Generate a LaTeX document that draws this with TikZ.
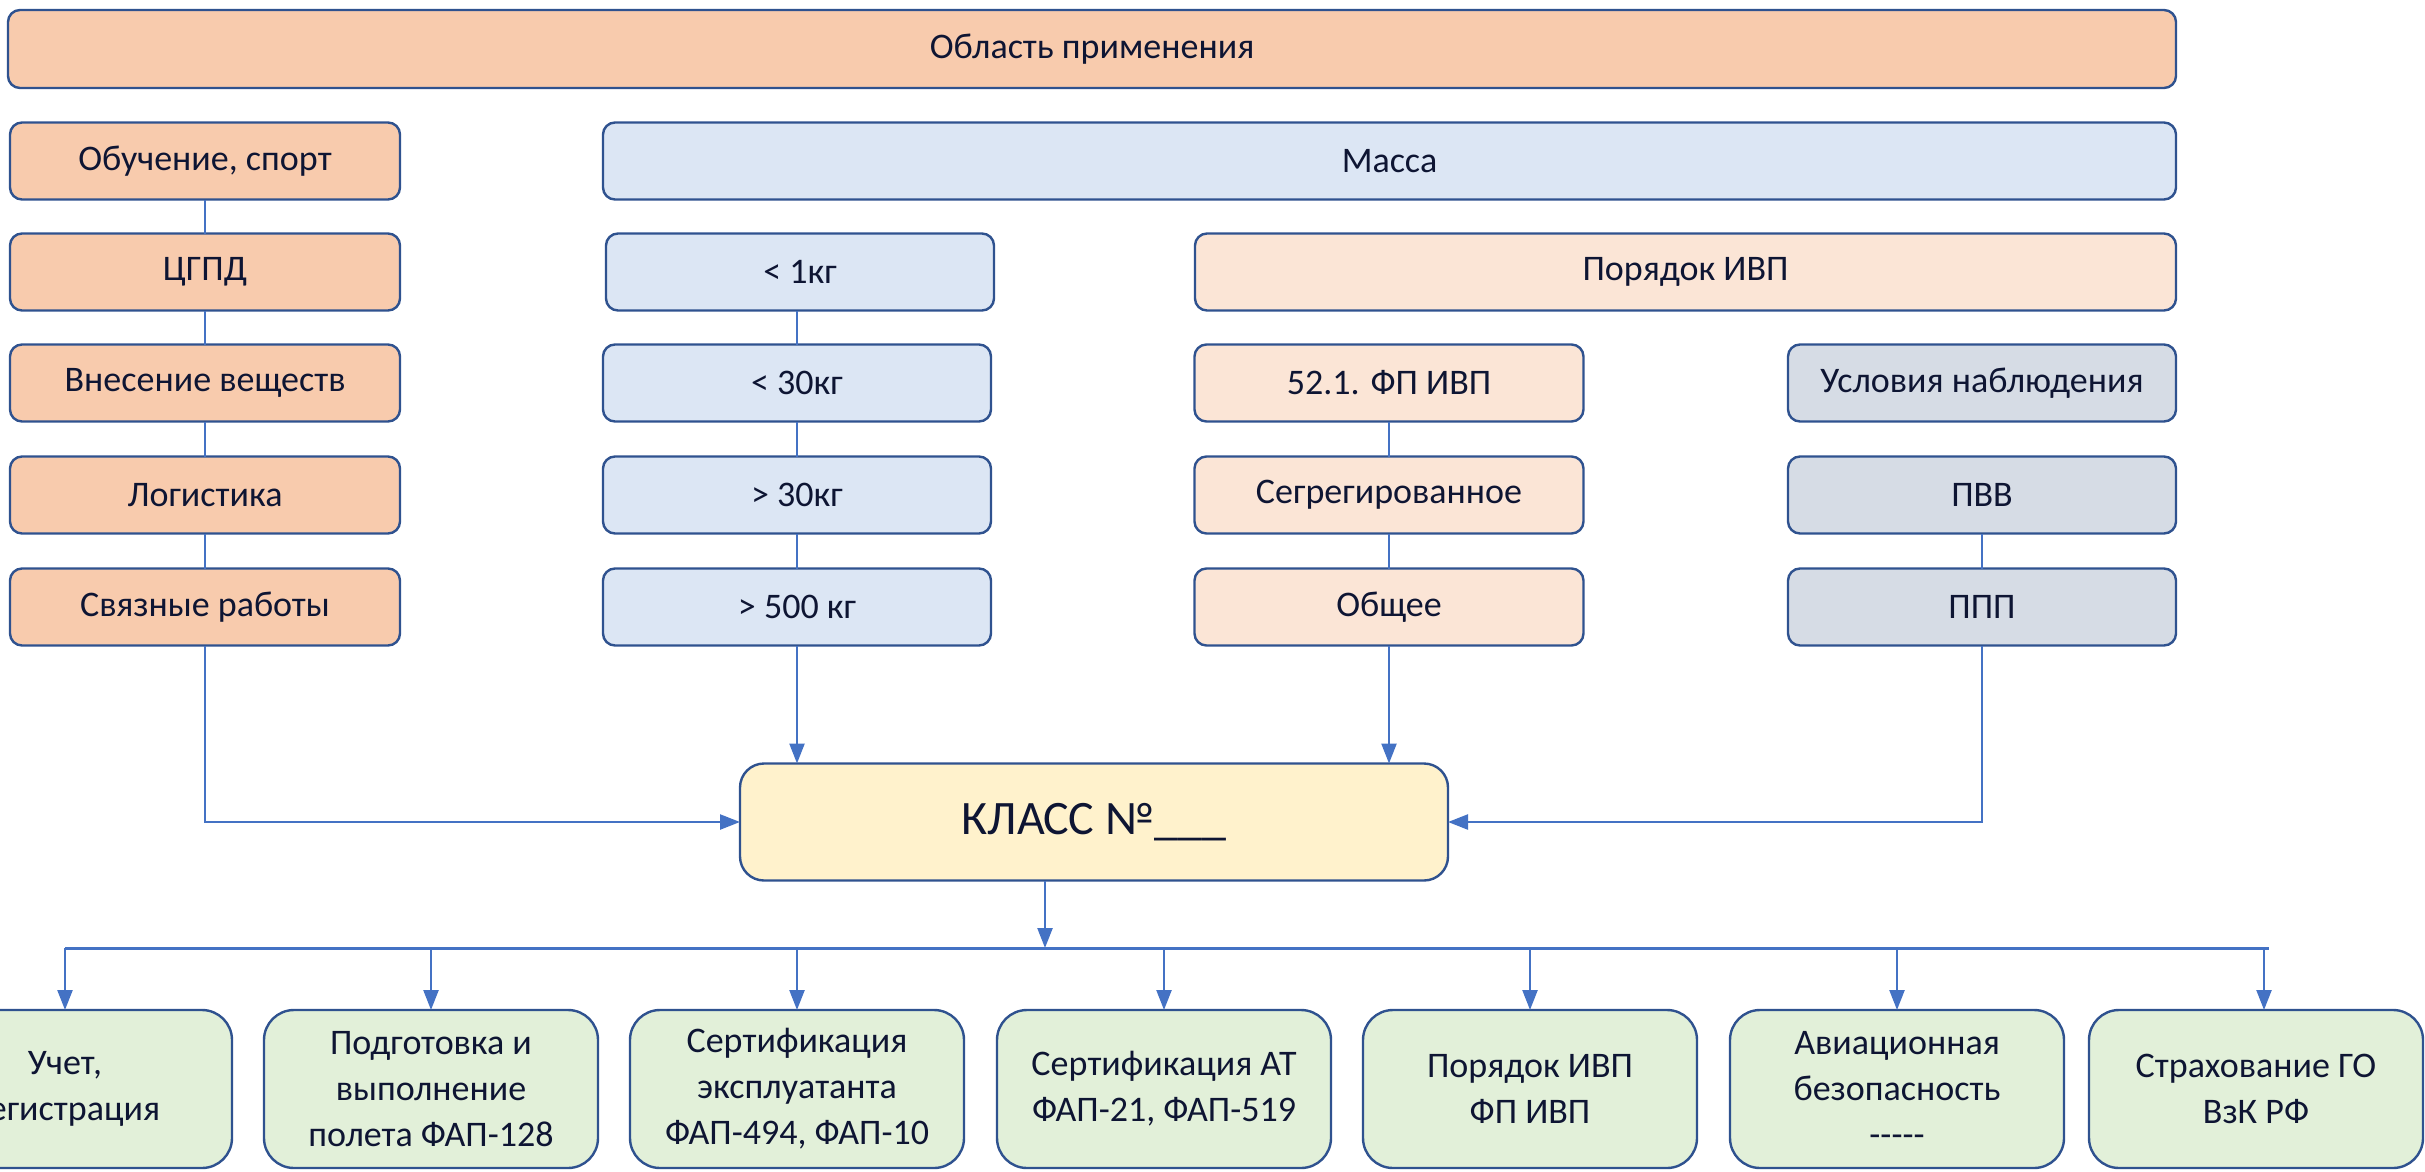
\documentclass[tikz,border=0pt]{standalone}
\usepackage{fontspec}
\setmainfont{Carlito}
\usetikzlibrary{arrows.meta}
\definecolor{bord}{HTML}{2F528F}
\definecolor{conn}{HTML}{4472C4}
\definecolor{txt}{HTML}{0E1533}
\definecolor{orng}{HTML}{F8CBAD}
\definecolor{lorng}{HTML}{FBE5D6}
\definecolor{lblue}{HTML}{DCE6F4}
\definecolor{gblue}{HTML}{D6DCE5}
\definecolor{klass}{HTML}{FFF2CC}
\definecolor{grn}{HTML}{E2F0D9}
\begin{document}
\begin{tikzpicture}[x=1pt,y=-1pt,
  box/.style={draw=bord, line width=2.4pt, rounded corners=12pt, inner sep=0pt, outer sep=0pt,
    minimum height=77pt, text=txt, font=\fontsize{36}{46}\selectfont, align=center},
  cola/.style={box, fill=orng, minimum width=390pt},
  colb/.style={box, fill=lblue, minimum width=388pt},
  colc/.style={box, fill=lorng, minimum width=389pt},
  cold/.style={box, fill=gblue, minimum width=388pt},
  botbox/.style={box, fill=grn, minimum width=334pt, minimum height=158pt, rounded corners=30pt},
  link/.style={draw=conn, line width=1.6pt},
  arr/.style={draw=conn, line width=2.4pt, -{Triangle[length=20pt,width=15pt]}},
  bus/.style={draw=conn, line width=3pt}]
\useasboundingbox (0,0) rectangle (2425,1172);
\clip (0,0) rectangle (2425,1172);

% top
\node[box, fill=orng, minimum width=2168pt, minimum height=78pt] (top) at (1092,49) {Область применения};

% column A
\node[cola] (a1) at (205,161) {Обучение, спорт};
\node[cola] (a2) at (205,272) {ЦГПД};
\node[cola] (a3) at (205,383) {Внесение веществ};
\node[cola] (a4) at (205,495) {Логистика};
\node[cola] (a5) at (205,607) {Связные работы};

% mass
\node[box, fill=lblue, minimum width=1573pt] (mass) at (1389.5,161) {Масса};
\node[colb] (b1) at (800,272) {< 1кг};
\node[colb] (b2) at (797,383) {< 30кг};
\node[colb] (b3) at (797,495) {> 30кг};
\node[colb] (b4) at (797,607) {> 500 кг};

% IVP order
\node[box, fill=lorng, minimum width=981pt] (ivp) at (1685.5,272) {Порядок ИВП};
\node[colc] (c1) at (1389,383) {52.1. ФП ИВП};
\node[colc] (c2) at (1389,495) {Сегрегированное};
\node[colc] (c3) at (1389,607) {Общее};

% observation
\node[cold] (d1) at (1982,383) {Условия наблюдения};
\node[cold] (d2) at (1982,495) {ПВВ};
\node[cold] (d3) at (1982,607) {ППП};

% class
\node[box, fill=klass, minimum width=708pt, minimum height=117pt, rounded corners=24pt,
  font=\fontsize{48}{56}\selectfont] (k) at (1094,822) {КЛАСС №\_\_\_};

% links in columns
\draw[link] (a1) -- (a2); \draw[link] (a2) -- (a3); \draw[link] (a3) -- (a4); \draw[link] (a4) -- (a5);
\draw[link] (b1.south -| b2.north) -- (b2); \draw[link] (b2) -- (b3); \draw[link] (b3) -- (b4);
\draw[link] (c1) -- (c2); \draw[link] (c2) -- (c3);
\draw[link] (d2) -- (d3);

% into class
\draw[arr] (a5.south) |- (k.west);
\draw[arr] (b4.south) -- (b4.south |- k.north);
\draw[arr] (c3.south) -- (c3.south |- k.north);
\draw[arr] (d3.south) |- (k.east);

% bottom boxes
\node[botbox] (e1) at (65,1089) {Учет,\\регистрация};
\node[botbox] (e2) at (431,1089) {Подготовка и\\выполнение\\полета ФАП-128};
\node[botbox] (e3) at (797,1089) {Сертификация\\эксплуатанта\\ФАП-494, ФАП-10};
\node[botbox] (e4) at (1164,1089) {Сертификация АТ\\ФАП-21, ФАП-519};
\node[botbox] (e5) at (1530,1089) {Порядок ИВП\\ФП ИВП};
\node[botbox] (e6) at (1897,1089) {Авиационная\\безопасность\\-\kern0pt-\kern0pt-\kern0pt-\kern0pt-};
\node[botbox] (e7) at (2256,1089) {Страхование ГО\\ВзК РФ};

% bus
\coordinate (bl) at (65,948);
\coordinate (br) at (2269,948);
\coordinate (kd) at (1045,948);
\draw[bus] (bl) -- (br);
\draw[arr] (kd |- k.south) -- (kd);
\foreach \e in {e1,e2,e3,e4,e5,e6}{
  \draw[arr] (\e.north |- bl) -- (\e.north);
}
\draw[arr] (br -| 2264,0) -- (e7.north -| 2264,0);
\end{tikzpicture}
\end{document}
